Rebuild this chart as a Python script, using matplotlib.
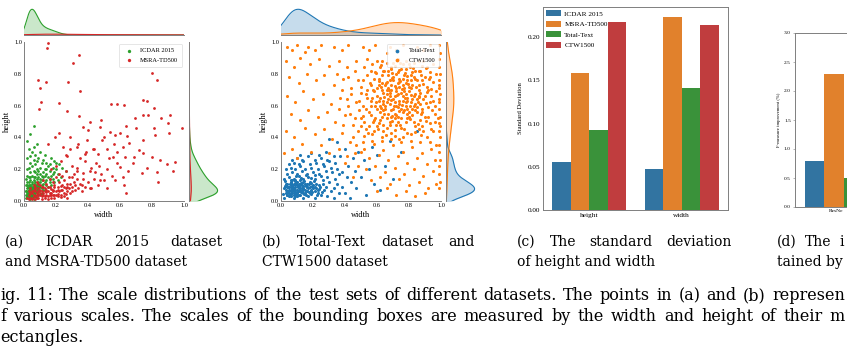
import numpy as np
import matplotlib
matplotlib.use("Agg")
import matplotlib.pyplot as plt

plt.rcParams['font.family'] = ['Liberation Serif', 'DejaVu Serif']

# ---------------- data ----------------
# (a) ICDAR 2015 / MSRA-TD500 normalised box sizes (width, height)
icdar_pts = [
    (0.01,0.02),(0.02,0.03),(0.02,0.05),(0.03,0.04),(0.03,0.07),(0.04,0.03),(0.04,0.06),(0.04,0.09),(0.05,0.04),(0.05,0.07),
    (0.05,0.11),(0.06,0.05),(0.06,0.08),(0.06,0.13),(0.07,0.06),(0.07,0.10),(0.07,0.15),(0.08,0.07),(0.08,0.11),(0.08,0.17),
    (0.09,0.08),(0.09,0.12),(0.09,0.19),(0.10,0.09),(0.10,0.14),(0.10,0.21),(0.11,0.10),(0.11,0.16),(0.12,0.11),(0.12,0.18),
    (0.13,0.12),(0.13,0.20),(0.14,0.13),(0.14,0.17),(0.15,0.15),(0.15,0.22),(0.16,0.14),(0.16,0.19),(0.17,0.16),(0.18,0.21),
    (0.19,0.18),(0.20,0.20),(0.21,0.17),(0.22,0.23),(0.24,0.21),(0.26,0.19),(0.02,0.08),(0.02,0.12),(0.03,0.10),(0.03,0.15),
    (0.04,0.13),(0.04,0.18),(0.05,0.16),(0.05,0.22),(0.06,0.19),(0.06,0.26),(0.07,0.23),(0.03,0.21),(0.04,0.28),(0.05,0.31),
    (0.03,0.33),(0.06,0.34),(0.02,0.38),(0.04,0.42),(0.07,0.29),(0.08,0.25),(0.09,0.27),(0.11,0.24),(0.12,0.26),(0.10,0.31),
    (0.13,0.29),(0.14,0.24),(0.17,0.27),(0.19,0.25),(0.08,0.36),(0.06,0.47),(0.02,0.16),(0.01,0.06),(0.01,0.10),(0.02,0.20),
    (0.03,0.02),(0.05,0.02),(0.07,0.03),(0.09,0.04),(0.11,0.05),(0.13,0.07),(0.15,0.09),(0.17,0.10),(0.19,0.12),(0.21,0.13),
    (0.23,0.15),(0.06,0.11),(0.08,0.14),(0.10,0.17),(0.12,0.15),(0.14,0.20),(0.16,0.23),(0.18,0.17),(0.20,0.24),(0.09,0.10),
    (0.07,0.12),(0.05,0.09),(0.11,0.13),(0.13,0.16),(0.04,0.24),(0.02,0.27),(0.01,0.14),(0.03,0.05),(0.04,0.04),(0.06,0.06),
    (0.05,0.05),(0.07,0.05),(0.08,0.06),(0.03,0.03),(0.06,0.04),(0.04,0.07),(0.05,0.06),(0.02,0.04),(0.07,0.08),(0.09,0.06),
    (0.02,0.03),(0.03,0.02),(0.03,0.05),(0.04,0.03),(0.04,0.05),(0.05,0.03),(0.05,0.04),(0.06,0.03),(0.06,0.05),(0.07,0.04),
    (0.025,0.045),(0.035,0.035),(0.045,0.055),(0.055,0.045),(0.065,0.055),(0.035,0.065),(0.045,0.025),(0.055,0.065),(0.025,0.065),(0.065,0.035),
    (0.03,0.08),(0.04,0.10),(0.05,0.08),(0.06,0.09),(0.07,0.07),(0.08,0.09),(0.02,0.10),(0.03,0.12),(0.05,0.12),(0.06,0.15),
    (0.04,0.15),(0.07,0.18),(0.08,0.20),(0.09,0.15),(0.10,0.12),(0.11,0.08),(0.12,0.07),(0.14,0.10),(0.16,0.12),(0.18,0.14),
    (0.045,0.075),(0.055,0.085),(0.035,0.095),(0.065,0.075),(0.075,0.095),(0.085,0.105),(0.025,0.085),(0.015,0.035),(0.015,0.065),(0.075,0.025),
    (0.085,0.045),(0.095,0.065),(0.105,0.045),(0.035,0.015),(0.045,0.045),(0.055,0.025),(0.065,0.015),(0.075,0.055),(0.085,0.075),(0.095,0.095),
]
msra_pts = [
    (0.148,0.994),(0.142,0.962),(0.344,0.920),(0.308,0.868),(0.088,0.764),(0.135,0.747),(0.277,0.747),(0.100,0.713),
    (0.350,0.692),(0.798,0.805),(0.829,0.759),(0.106,0.623),(0.219,0.617),(0.096,0.579),(0.269,0.565),(0.542,0.607),
    (0.581,0.611),(0.623,0.603),(0.746,0.638),(0.769,0.630),(0.815,0.586),(0.696,0.523),(0.746,0.540),(0.775,0.544),
    (0.858,0.521),(0.913,0.542),(0.902,0.490),(0.985,0.456),(0.815,0.456),(0.700,0.460),(0.346,0.533),(0.412,0.500),
    (0.475,0.466),(0.402,0.446),(0.371,0.466),(0.538,0.435),(0.569,0.414),(0.908,0.429),(0.819,0.416),(0.642,0.408),
    (0.746,0.383),(0.654,0.362),(0.485,0.383),(0.392,0.383),(0.288,0.404),(0.194,0.404),(0.246,0.341),(0.333,0.341),
    (0.433,0.324),(0.517,0.328),(0.579,0.310),(0.465,0.293),(0.381,0.295),(0.558,0.278),(0.633,0.278),(0.690,0.278),
    (0.742,0.299),(0.798,0.278),(0.850,0.257),(0.944,0.247),(0.892,0.232),(0.767,0.205),(0.829,0.184),(0.933,0.190),
    (0.740,0.174),(0.652,0.190),(0.600,0.215),(0.569,0.132),(0.627,0.100),(0.638,0.052),(0.517,0.079),(0.475,0.132),
    (0.444,0.184),(0.371,0.174),(0.329,0.205),(0.298,0.153),(0.360,0.100),(0.412,0.079),(0.267,0.090),(0.840,0.121),
    (0.02,0.02),(0.03,0.04),(0.04,0.02),(0.05,0.05),(0.06,0.03),(0.07,0.06),(0.08,0.02),(0.09,0.04),(0.10,0.07),(0.11,0.03),
    (0.12,0.05),(0.13,0.08),(0.14,0.04),(0.15,0.06),(0.16,0.09),(0.17,0.05),(0.18,0.07),(0.19,0.10),(0.20,0.06),(0.21,0.09),
    (0.22,0.12),(0.23,0.07),(0.24,0.10),(0.25,0.13),(0.26,0.08),(0.27,0.11),(0.28,0.15),(0.30,0.09),(0.31,0.12),(0.33,0.14),
    (0.35,0.11),(0.04,0.08),(0.06,0.10),(0.08,0.12),(0.10,0.10),(0.12,0.13),(0.14,0.11),(0.16,0.14),(0.18,0.12),(0.20,0.15),
    (0.22,0.17),(0.24,0.16),(0.26,0.19),(0.03,0.06),(0.05,0.02),(0.07,0.03),(0.09,0.08),(0.11,0.06),(0.13,0.02),(0.15,0.03),
    (0.17,0.02),(0.19,0.04),(0.21,0.03),(0.23,0.04),(0.25,0.05),(0.27,0.06),(0.29,0.05),(0.32,0.07),(0.36,0.06),(0.38,0.09),
    (0.40,0.12),(0.42,0.08),(0.44,0.14),(0.46,0.10),(0.48,0.17),(0.50,0.13),(0.52,0.20),(0.55,0.16),(0.58,0.24),(0.62,0.15),
    (0.08,0.05),(0.10,0.04),(0.12,0.09),(0.14,0.07),(0.16,0.05),(0.18,0.04),(0.06,0.07),(0.04,0.05),(0.07,0.09),(0.09,0.11),
    (0.20,0.22),(0.17,0.20),(0.23,0.25),(0.30,0.22),(0.35,0.27),(0.38,0.25),(0.27,0.28),(0.42,0.21),(0.45,0.24),(0.33,0.19),
    (0.03,0.01),(0.05,0.015),(0.07,0.012),(0.09,0.02),(0.11,0.015),(0.13,0.03),(0.15,0.012),(0.17,0.035),(0.19,0.02),(0.21,0.045),
    (0.23,0.025),(0.25,0.03),(0.27,0.02),(0.06,0.04),(0.08,0.035),(0.10,0.05),(0.12,0.035),(0.14,0.055),(0.16,0.04),(0.18,0.06),
    (0.20,0.04),(0.22,0.06),(0.24,0.07),(0.26,0.045),(0.28,0.08),(0.30,0.06),(0.32,0.10),(0.34,0.08),(0.05,0.06),(0.07,0.075),
    (0.09,0.065),(0.11,0.085),(0.13,0.065),(0.15,0.085),(0.17,0.075),(0.19,0.085),(0.21,0.07),(0.23,0.095),(0.25,0.085),(0.29,0.11),
    (0.31,0.17),(0.37,0.14),(0.41,0.19),(0.47,0.22),(0.53,0.27),(0.44,0.33),(0.39,0.31),(0.34,0.36),(0.29,0.33),(0.26,0.29),
    (0.50,0.40),(0.62,0.34),(0.68,0.24),(0.72,0.32),(0.56,0.36),(0.60,0.43),(0.64,0.47),(0.48,0.51),(0.22,0.43),(0.15,0.36),
]

# (b) Total-Text / CTW1500
totaltext_pts = [
    (0.02,0.02),(0.05,0.03),(0.08,0.02),(0.11,0.04),(0.14,0.02),(0.17,0.03),(0.21,0.02),(0.25,0.04),(0.29,0.03),(0.33,0.02),
    (0.03,0.05),(0.06,0.06),(0.09,0.05),(0.12,0.07),(0.15,0.05),(0.19,0.06),(0.23,0.05),(0.27,0.07),(0.31,0.06),(0.36,0.05),
    (0.02,0.08),(0.04,0.09),(0.07,0.08),(0.10,0.10),(0.13,0.08),(0.16,0.09),(0.20,0.08),(0.24,0.10),(0.28,0.09),(0.33,0.08),
    (0.03,0.11),(0.06,0.12),(0.09,0.11),(0.12,0.13),(0.15,0.11),(0.18,0.12),(0.22,0.11),(0.26,0.13),(0.30,0.12),(0.35,0.11),
    (0.02,0.14),(0.05,0.15),(0.08,0.14),(0.11,0.16),(0.14,0.14),(0.17,0.15),(0.21,0.14),(0.25,0.16),(0.29,0.15),(0.34,0.14),
    (0.04,0.17),(0.07,0.18),(0.10,0.17),(0.13,0.19),(0.16,0.17),(0.20,0.18),(0.24,0.17),(0.28,0.19),(0.32,0.18),(0.36,0.17),
    (0.03,0.20),(0.06,0.21),(0.09,0.20),(0.12,0.22),(0.15,0.20),(0.19,0.21),(0.23,0.20),(0.27,0.22),(0.31,0.21),(0.35,0.20),
    (0.05,0.23),(0.08,0.24),(0.11,0.23),(0.14,0.25),(0.18,0.23),(0.22,0.24),(0.26,0.23),(0.30,0.25),(0.34,0.24),
    (0.07,0.26),(0.10,0.27),(0.13,0.26),(0.17,0.28),(0.21,0.26),(0.25,0.27),(0.29,0.26),(0.33,0.28),
    (0.12,0.29),(0.19,0.30),(0.24,0.29),(0.28,0.31),
    (0.035,0.035),(0.065,0.045),(0.095,0.035),(0.125,0.055),(0.155,0.035),(0.185,0.045),(0.045,0.065),(0.075,0.075),
    (0.105,0.065),(0.135,0.095),(0.165,0.065),(0.195,0.095),(0.055,0.105),(0.085,0.125),(0.115,0.105),(0.145,0.125),
    (0.175,0.105),(0.205,0.125),(0.065,0.135),(0.095,0.155),(0.125,0.145),(0.155,0.165),(0.185,0.145),(0.215,0.165),
    (0.025,0.125),(0.235,0.075),(0.265,0.105),(0.225,0.035),(0.255,0.055),(0.015,0.045),
    (0.40,0.05),(0.44,0.12),(0.38,0.18),(0.42,0.22),(0.47,0.08),(0.50,0.15),(0.53,0.04),(0.45,0.27),(0.55,0.20),(0.58,0.11),
    (0.48,0.31),(0.62,0.07),(0.40,0.33),(0.35,0.37),(0.52,0.26),(0.65,0.22),(0.70,0.14),(0.60,0.29),(0.30,0.39),(0.75,0.31),
    (0.85,0.44),(0.68,0.38),(0.43,0.02),(0.38,0.09),(0.57,0.34),(0.41,0.15),(0.46,0.19),(0.37,0.28),
    (0.04,0.04),(0.06,0.03),(0.07,0.05),(0.08,0.04),(0.09,0.07),(0.10,0.05),(0.11,0.06),(0.12,0.04),(0.13,0.06),(0.14,0.08),
    (0.05,0.07),(0.06,0.09),(0.07,0.06),(0.08,0.08),(0.09,0.09),(0.10,0.07),(0.11,0.09),(0.12,0.08),(0.13,0.10),(0.15,0.07),
    (0.04,0.06),(0.05,0.05),(0.06,0.07),(0.07,0.10),(0.08,0.06),(0.09,0.03),(0.10,0.03),(0.11,0.07),(0.12,0.10),(0.14,0.05),
    (0.16,0.06),(0.17,0.08),(0.18,0.05),(0.19,0.07),(0.20,0.10),(0.21,0.06),(0.22,0.08),(0.23,0.07),(0.18,0.09),(0.16,0.11),
    (0.03,0.07),(0.04,0.11),(0.06,0.10),(0.08,0.11),(0.10,0.12),(0.12,0.11),(0.14,0.12),(0.05,0.09),(0.07,0.13),(0.09,0.13),
    (0.045,0.085),(0.055,0.035),(0.075,0.085),(0.085,0.055),(0.095,0.105),(0.105,0.085),(0.115,0.035),(0.135,0.075),(0.145,0.045),(0.165,0.085),
    (0.175,0.055),(0.195,0.055),(0.215,0.085),(0.025,0.095),(0.035,0.055),(0.065,0.115),(0.125,0.115),(0.155,0.095),(0.185,0.115),(0.245,0.085),
]
ctw1500_pts = [
    (0.52,0.41),(0.58,0.44),(0.63,0.40),(0.69,0.43),(0.74,0.39),(0.81,0.42),(0.86,0.45),(0.91,0.40),(0.95,0.44),(0.55,0.47),
    (0.61,0.49),(0.66,0.46),(0.72,0.48),(0.77,0.45),(0.83,0.50),(0.88,0.47),(0.93,0.49),(0.50,0.52),(0.56,0.54),(0.62,0.51),
    (0.67,0.55),(0.71,0.52),(0.76,0.56),(0.80,0.53),(0.85,0.56),(0.90,0.53),(0.96,0.55),(0.53,0.58),(0.59,0.60),(0.64,0.57),
    (0.68,0.61),(0.73,0.59),(0.78,0.62),(0.82,0.58),(0.87,0.61),(0.92,0.59),(0.49,0.63),(0.57,0.65),(0.61,0.63),(0.66,0.67),
    (0.70,0.64),(0.75,0.68),(0.79,0.65),(0.84,0.67),(0.89,0.64),(0.94,0.66),(0.54,0.70),(0.60,0.71),(0.65,0.73),(0.69,0.70),
    (0.73,0.74),(0.77,0.71),(0.82,0.73),(0.86,0.70),(0.91,0.72),(0.51,0.76),(0.58,0.77),(0.63,0.79),(0.68,0.76),(0.72,0.80),
    (0.76,0.77),(0.81,0.79),(0.85,0.76),(0.90,0.78),(0.95,0.75),(0.56,0.82),(0.62,0.84),(0.67,0.82),(0.71,0.85),(0.75,0.83),
    (0.80,0.86),(0.84,0.82),(0.88,0.85),(0.93,0.81),(0.60,0.88),(0.66,0.87),(0.73,0.89),(0.78,0.88),(0.86,0.88),(0.64,0.61),
    (0.545,0.425),(0.605,0.455),(0.655,0.415),(0.715,0.445),(0.765,0.405),(0.835,0.435),(0.875,0.415),(0.935,0.455),
    (0.575,0.495),(0.635,0.475),(0.695,0.505),(0.745,0.475),(0.805,0.515),(0.855,0.485),(0.905,0.505),(0.515,0.535),
    (0.585,0.525),(0.645,0.545),(0.695,0.535),(0.735,0.565),(0.785,0.545),(0.835,0.575),(0.875,0.545),(0.945,0.575),
    (0.565,0.595),(0.625,0.585),(0.705,0.595),(0.755,0.605),(0.805,0.595),(0.855,0.625),(0.905,0.615),(0.535,0.645),
    (0.595,0.625),(0.645,0.655),(0.685,0.635),(0.725,0.665),(0.775,0.645),(0.815,0.665),(0.865,0.655),(0.915,0.685),
    (0.575,0.695),(0.625,0.715),(0.675,0.695),(0.715,0.725),(0.755,0.705),(0.795,0.735),(0.845,0.715),(0.885,0.735),
    (0.935,0.705),(0.555,0.745),(0.615,0.755),(0.655,0.745),(0.695,0.775),(0.745,0.755),(0.785,0.785),(0.835,0.765),
    (0.875,0.795),(0.925,0.765),(0.595,0.805),(0.645,0.815),(0.695,0.805),(0.735,0.825),(0.775,0.805),(0.825,0.835),
    (0.865,0.815),(0.905,0.835),(0.625,0.855),(0.685,0.845),(0.745,0.865),(0.805,0.845),
    (0.66,0.62),(0.70,0.58),(0.74,0.63),(0.78,0.60),(0.72,0.69),(0.68,0.66),(0.76,0.66),(0.80,0.69),(0.64,0.68),(0.74,0.72),
    (0.70,0.76),(0.78,0.74),(0.82,0.64),(0.62,0.56),(0.86,0.66),(0.66,0.52),(0.72,0.54),(0.80,0.56),(0.88,0.58),(0.60,0.66),
    (0.69,0.73),(0.77,0.79),(0.84,0.61),(0.73,0.50),(0.63,0.74),(0.81,0.76),(0.67,0.79),(0.75,0.58),(0.71,0.62),(0.79,0.52),
    (0.53,0.45),(0.57,0.42),(0.60,0.47),(0.64,0.44),(0.68,0.48),(0.71,0.41),(0.75,0.46),(0.79,0.43),(0.84,0.47),(0.89,0.44),
    (0.52,0.50),(0.58,0.51),(0.63,0.53),(0.68,0.50),(0.73,0.53),(0.78,0.50),(0.82,0.54),(0.87,0.51),(0.92,0.53),(0.96,0.50),
    (0.55,0.56),(0.60,0.58),(0.65,0.60),(0.69,0.57),(0.74,0.61),(0.79,0.58),(0.83,0.60),(0.88,0.56),(0.93,0.62),(0.51,0.60),
    (0.56,0.63),(0.62,0.65),(0.67,0.64),(0.71,0.66),(0.76,0.63),(0.81,0.62),(0.85,0.64),(0.90,0.66),(0.95,0.63),(0.53,0.67),
    (0.58,0.69),(0.63,0.70),(0.67,0.71),(0.72,0.71),(0.77,0.69),(0.81,0.71),(0.87,0.68),(0.92,0.70),(0.50,0.72),(0.56,0.73),
    (0.61,0.77),(0.66,0.75),(0.70,0.78),(0.74,0.77),(0.79,0.76),(0.83,0.78),(0.88,0.76),(0.93,0.78),(0.54,0.79),(0.59,0.81),
    (0.64,0.82),(0.69,0.83),(0.73,0.81),(0.78,0.83),(0.82,0.81),(0.87,0.82),(0.91,0.84),(0.57,0.86),(0.63,0.88),(0.70,0.87),
    (0.76,0.86),(0.83,0.87),(0.89,0.88),(0.95,0.86),(0.52,0.84),(0.97,0.69),(0.97,0.80),(0.96,0.60),(0.98,0.52),(0.54,0.89),
    (0.65,0.58),(0.69,0.53),(0.75,0.52),(0.78,0.67),(0.72,0.60),(0.66,0.70),(0.80,0.72),(0.74,0.75),(0.86,0.73),(0.62,0.60),
    (0.71,0.55),(0.77,0.57),(0.83,0.66),(0.68,0.68),(0.64,0.63),(0.73,0.67),(0.79,0.63),(0.85,0.59),(0.61,0.73),(0.76,0.73),
    (0.04,0.97),(0.10,0.98),(0.17,0.97),(0.25,0.98),(0.33,0.97),(0.42,0.98),(0.51,0.97),(0.59,0.98),(0.68,0.97),(0.76,0.98),
    (0.85,0.97),(0.93,0.98),(0.07,0.95),(0.21,0.95),(0.38,0.95),(0.55,0.95),(0.72,0.95),(0.89,0.95),(0.15,0.94),(0.66,0.93),
    (0.990,0.98),(0.995,0.93),(0.985,0.89),(0.990,0.84),(0.995,0.80),(0.985,0.76),(0.990,0.71),(0.995,0.67),(0.985,0.62),
    (0.990,0.58),(0.995,0.53),(0.985,0.49),(0.990,0.44),(0.995,0.40),(0.985,0.35),(0.990,0.31),(0.995,0.26),(0.985,0.22),
    (0.990,0.17),(0.995,0.12),(0.985,0.08),(0.985,0.73),(0.990,0.64),(0.995,0.47),
    (0.03,0.88),(0.08,0.84),(0.12,0.90),(0.18,0.86),(0.24,0.89),(0.30,0.85),(0.36,0.88),(0.41,0.84),(0.05,0.78),(0.11,0.74),
    (0.16,0.80),(0.22,0.76),(0.27,0.79),(0.33,0.73),(0.39,0.77),(0.44,0.71),(0.04,0.66),(0.09,0.62),(0.14,0.69),(0.20,0.64),
    (0.26,0.67),(0.31,0.61),(0.37,0.65),(0.42,0.60),(0.06,0.55),(0.12,0.51),(0.17,0.57),(0.23,0.53),(0.29,0.56),(0.34,0.50),
    (0.40,0.54),(0.45,0.48),(0.03,0.44),(0.08,0.40),(0.15,0.46),(0.21,0.42),(0.27,0.45),(0.32,0.39),(0.38,0.43),(0.43,0.37),
    (0.07,0.33),(0.13,0.36),(0.19,0.31),(0.25,0.35),(0.30,0.30),(0.36,0.33),(0.41,0.28),(0.02,0.30),(0.10,0.27),(0.40,0.24),
    (0.46,0.82),(0.48,0.76),(0.44,0.67),(0.47,0.62),(0.49,0.57),(0.46,0.52),(0.48,0.44),(0.45,0.40),(0.47,0.35),(0.50,0.31),
    (0.42,0.78),(0.38,0.70),(0.43,0.55),(0.39,0.48),(0.36,0.58),(0.41,0.64),(0.50,0.68),(0.50,0.47),(0.35,0.80),(0.47,0.88),
    (0.52,0.33),(0.58,0.36),(0.64,0.32),(0.70,0.35),(0.76,0.31),(0.82,0.34),(0.88,0.30),(0.94,0.33),(0.55,0.27),(0.61,0.29),
    (0.67,0.26),(0.73,0.28),(0.79,0.24),(0.85,0.27),(0.91,0.23),(0.96,0.26),(0.53,0.20),(0.59,0.22),(0.65,0.18),(0.71,0.21),
    (0.77,0.17),(0.83,0.20),(0.89,0.16),(0.95,0.19),(0.56,0.13),(0.62,0.15),(0.68,0.11),(0.74,0.14),(0.80,0.10),(0.86,0.12),
    (0.92,0.08),(0.97,0.11),(0.60,0.06),(0.66,0.08),(0.72,0.04),(0.78,0.06),(0.84,0.03),(0.90,0.05),(0.45,0.15),(0.48,0.22),
    (0.63,0.38),(0.69,0.39),(0.75,0.37),(0.81,0.38),(0.87,0.37),(0.93,0.37),(0.57,0.38),(0.51,0.37),(0.46,0.30),(0.97,0.35),
]
# estimated relative number of test boxes per dataset (weights the marginal densities)
dataset_sizes = {'ICDAR 2015': 2077, 'MSRA-TD500': 320, 'Total-Text': 2600, 'CTW1500': 2300}

# (c) standard deviation of height / width
std_groups = ['height', 'width']
std_datasets = ['ICDAR 2015', 'MSRA-TD500', 'Total-Text', 'CTW1500']
std_values = {
    'ICDAR 2015': [0.055, 0.047],
    'MSRA-TD500': [0.159, 0.223],
    'Total-Text': [0.093, 0.141],
    'CTW1500':    [0.218, 0.214],
}

# (d) F-measure improvement (visible part)
imp_groups = ['ResNe']
imp_values = {'ICDAR 2015': [0.8], 'MSRA-TD500': [2.3], 'Total-Text': [0.5]}

# ---------------- styling ----------------
W, H = 847, 361
fig = plt.figure(figsize=(W / 100, H / 100), dpi=100)

bar_colors = {'ICDAR 2015': '#3274a1', 'MSRA-TD500': '#e1812c',
              'Total-Text': '#3a923a', 'CTW1500': '#c03d3e'}
spine_col = '#7f7f7f'


def ax_px(l, t, w, h):
    return fig.add_axes([l / W, 1 - (t + h) / H, w / W, h / H])


def kde(vals, grid):
    vals = np.asarray(vals)
    bw = vals.std(ddof=1) * len(vals) ** (-0.2)
    d = np.exp(-0.5 * ((grid[:, None] - vals[None, :]) / bw) ** 2).sum(1)
    return d / (len(vals) * bw * np.sqrt(2 * np.pi))


def joint(left, names, pts_list, colors, msize):
    ax = ax_px(left, 42, 160, 159)
    axt = ax_px(left, 8, 160, 27)
    axr = ax_px(left + 165, 42, 30, 159)
    for name, pts, c in zip(names, pts_list, colors):
        p = np.array(pts)
        ax.scatter(p[:, 0], p[:, 1], s=msize, color=c, linewidths=0, label=name)
    ax.set_xlim(0, 1.0)
    ax.set_ylim(0, 1.0)
    ax.set_xticks(np.arange(0, 1.01, 0.2))
    ax.set_yticks(np.arange(0, 1.01, 0.2))
    ax.tick_params(labelsize=4.6, length=0, pad=1.5)
    for s in ['top', 'right']:
        ax.spines[s].set_visible(False)
    for s in ['left', 'bottom']:
        ax.spines[s].set_color(spine_col)
        ax.spines[s].set_linewidth(0.7)
    ax.set_xlabel('width', fontsize=6, labelpad=2)
    ax.set_ylabel('height', fontsize=6, labelpad=2)
    leg = ax.legend(loc='upper right', fontsize=4.6, markerscale=1.2, handletextpad=0.8,
                    borderpad=0.6, labelspacing=0.7, borderaxespad=0.3, framealpha=0.85)
    leg.get_frame().set_linewidth(0.4)
    leg.get_frame().set_edgecolor('#cccccc')

    total = sum(dataset_sizes[n] for n in names)
    g = np.linspace(-0.3, 1.3, 800)
    for name, pts, c in zip(names, pts_list, colors):
        p = np.array(pts)
        frac = dataset_sizes[name] / total
        dx = kde(p[:, 0], g) * frac
        dy = kde(p[:, 1], g) * frac
        axt.fill_between(g, 0, dx, color=c, alpha=0.25, linewidth=0)
        axt.plot(g, dx, color=c, lw=0.8)
        axr.fill_betweenx(g, 0, dy, color=c, alpha=0.25, linewidth=0)
        axr.plot(dy, g, color=c, lw=0.8)
    axt.set_xlim(0, 1.0)
    axt.set_ylim(bottom=0)
    axr.set_ylim(0, 1.0)
    axr.set_xlim(left=0)
    for a in (axt, axr):
        a.set_xticks([])
        a.set_yticks([])
        for s in a.spines.values():
            s.set_visible(False)
    axt.spines['bottom'].set_visible(True)
    axt.spines['bottom'].set_color(spine_col)
    axt.spines['bottom'].set_linewidth(0.7)
    axr.spines['left'].set_visible(True)
    axr.spines['left'].set_color(spine_col)
    axr.spines['left'].set_linewidth(0.7)


joint(24, ['ICDAR 2015', 'MSRA-TD500'], [icdar_pts, msra_pts], ['#2ca02c', '#d62728'], 4)
joint(281, ['Total-Text', 'CTW1500'], [totaltext_pts, ctw1500_pts], ['#1f77b4', '#ff7f0e'], 5)

# ---------------- (c) ----------------
axc = ax_px(543, 7, 185, 203)
offs = [-0.3, -0.1, 0.1, 0.3]
xg = np.arange(len(std_groups))
for off, name in zip(offs, std_datasets):
    axc.bar(xg + off, std_values[name], width=0.2, color=bar_colors[name], label=name)
axc.set_xlim(-0.5, 1.5)
axc.set_ylim(0, 0.235)
axc.set_xticks(xg)
axc.set_xticklabels(std_groups)
yt = np.arange(0, 0.201, 0.05)
axc.set_yticks(yt)
axc.set_yticklabels([f'{v:.2f}' for v in yt])
axc.tick_params(labelsize=5.2, length=0, pad=2)
axc.set_ylabel('Standard Deviation', fontsize=4.8, labelpad=3)
for s in axc.spines.values():
    s.set_color(spine_col)
    s.set_linewidth(0.7)
axc.legend(loc='upper left', fontsize=5.2, frameon=False, handlelength=2.0, handleheight=0.9,
           labelspacing=0.55, borderaxespad=0.15, borderpad=0.3, handletextpad=0.5)

# ---------------- (d) ----------------
axd = ax_px(795, 33, 292, 174)
xd = np.arange(len(imp_groups))
for off, name in zip(offs, std_datasets):
    if name in imp_values:
        axd.bar(xd + off, imp_values[name], width=0.2, color=bar_colors[name])
axd.set_xlim(-0.5, 2.5)
axd.set_ylim(0, 3.0)
axd.set_xticks(xd)
axd.set_xticklabels(imp_groups, ha='right')
axd.set_yticks(np.arange(0, 3.01, 0.5))
axd.tick_params(axis='y', labelsize=3.9, length=1.5, width=0.4, pad=1.5, color=spine_col)
axd.tick_params(axis='x', labelsize=3.9, length=0, pad=1.5)
axd.set_ylabel('F-measure improvement (%)', fontsize=3.4, labelpad=2)
for s in axd.spines.values():
    s.set_color(spine_col)
    s.set_linewidth(0.7)

# ---------------- captions ----------------
sub_fs = 10
cap_fs = 11.5
cap_font = 'DejaVu Serif'
renderer = fig.canvas.get_renderer()


def put(text, x, y, fs):
    return fig.text(x / W, 1 - y / H, text, fontsize=fs, family=cap_font,
                    ha='left', va='baseline')


def justify(line, x0, x1, y, fs):
    words = line.split(' ')
    ts = [put(w, 0, y, fs) for w in words]
    ws = [t.get_window_extent(renderer).width for t in ts]
    gap = max((x1 - x0 - sum(ws)) / (len(words) - 1), 3.0)
    x = x0
    for t, w in zip(ts, ws):
        t.set_x(x / W)
        x += w + gap


justify('(a) ICDAR 2015 dataset', 5, 222, 246, sub_fs)
put('and MSRA-TD500 dataset', 5, 266, sub_fs)
justify('(b) Total-Text dataset and', 262, 475, 246, sub_fs)
put('CTW1500 dataset', 262, 266, sub_fs)
justify('(c) The standard deviation', 517, 732, 246, sub_fs)
put('of height and width', 517, 266, sub_fs)
justify('(d) The i', 777, 844, 246, sub_fs)
put('tained by', 777, 266, sub_fs)
justify('ig. 11: The scale distributions of the test sets of different datasets. The points in (a) and (b) represen', 0, 845, 300, cap_fs)
justify('f various scales. The scales of the bounding boxes are measured by the width and height of their m', 0, 845, 321, cap_fs)
put('ectangles.', 0, 342, cap_fs)

fig.savefig('out.png', dpi=100)
